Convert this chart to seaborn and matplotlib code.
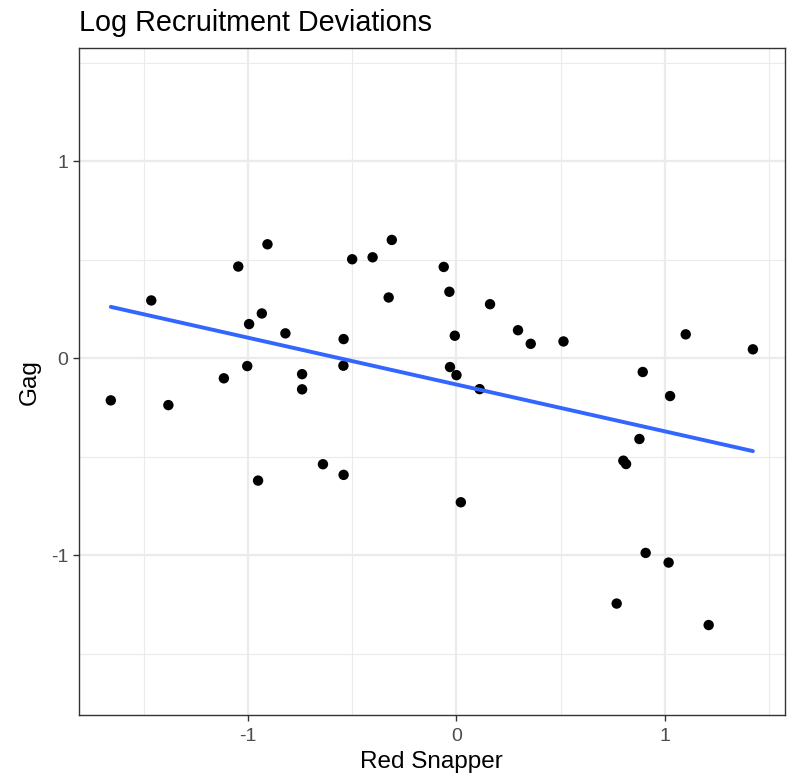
import numpy as np
import pandas as pd
import matplotlib
matplotlib.use("Agg")
import matplotlib.pyplot as plt
import seaborn as sns

# Log recruitment deviations by year for the two stocks
red_snapper = [
    -1.657, -1.463, -1.381, -1.046, -0.906, -0.933, -0.994, -0.820, -1.003,
    -1.115, -0.740, -0.740, -0.951,
    -0.500, -0.402, -0.310, -0.325, -0.541, -0.542, -0.640, -0.541,
    -0.061, -0.034, -0.008, -0.031, 0.000, 0.111, 0.021, 0.161, 0.295, 0.356,
    0.513, 1.099, 1.421, 0.893, 1.024, 0.877, 0.800, 0.813, 0.907, 1.017,
    0.768, 1.209,
]
gag = [
    -0.213, 0.294, -0.237, 0.466, 0.579, 0.228, 0.174, 0.127, -0.039,
    -0.101, -0.080, -0.157, -0.620,
    0.503, 0.513, 0.601, 0.309, 0.098, -0.037, -0.537, -0.591,
    0.464, 0.338, 0.115, -0.044, -0.085, -0.156, -0.730, 0.275, 0.143, 0.074,
    0.086, 0.122, 0.046, -0.069, -0.191, -0.409, -0.519, -0.536, -0.987, -1.036,
    -1.244, -1.353,
]
x_ticks = [-1, 0, 1]
y_ticks = [-1, 0, 1]

df = pd.DataFrame({"Red Snapper": red_snapper, "Gag": gag})

sns.set_theme(style="white")
plt.rcParams["font.family"] = ["Liberation Sans", "DejaVu Sans"]

fig = plt.figure(figsize=(7.95, 7.73), dpi=100)
ax = fig.add_axes([78.7 / 795, 1 - 715.3 / 773, (785 - 78.7) / 795, (715.3 - 48) / 773])

sns.regplot(
    data=df, x="Red Snapper", y="Gag", ax=ax, ci=None,
    scatter_kws=dict(s=56, color="black", edgecolor="none", alpha=1, zorder=3),
    line_kws=dict(color="#3366FF", lw=2.8, zorder=4),
)

# shared limits on both axes with a 5% margin around the red snapper range
lo, hi = min(red_snapper), max(red_snapper)
pad = 0.05 * (hi - lo)
ax.set_xlim(lo - pad, hi + pad)
ax.set_ylim(lo - pad, hi + pad)

ax.set_xticks(x_ticks)
ax.set_yticks(y_ticks)
ax.set_xticklabels([f"{t:g}" for t in x_ticks])
ax.set_yticklabels([f"{t:g}" for t in y_ticks])
ax.set_xticks([-1.5, -0.5, 0.5, 1.5], minor=True)
ax.set_yticks([-1.5, -0.5, 0.5, 1.5], minor=True)

ax.grid(which="major", color="#EBEBEB", lw=1.6, zorder=0)
ax.grid(which="minor", color="#EBEBEB", lw=0.8, zorder=0)
ax.set_axisbelow(True)

for sp in ax.spines.values():
    sp.set_color("#333333")
    sp.set_linewidth(1.0)

ax.tick_params(axis="both", which="major", length=4.5, width=1.0, color="#333333",
               labelcolor="#4D4D4D", labelsize=14, pad=3, bottom=True, left=True)
ax.tick_params(axis="x", which="major", pad=5)
ax.tick_params(axis="both", which="minor", length=0)

ax.set_xlabel("Red Snapper", fontsize=17.5, color="black", labelpad=4)
ax.set_ylabel("Gag", fontsize=17.5, color="black", labelpad=7)

fig.text(79 / 795, 1 - 30.7 / 773, "Log Recruitment Deviations", fontsize=20.7,
         color="black", ha="left", va="baseline")

fig.savefig("out.png", dpi=100)
